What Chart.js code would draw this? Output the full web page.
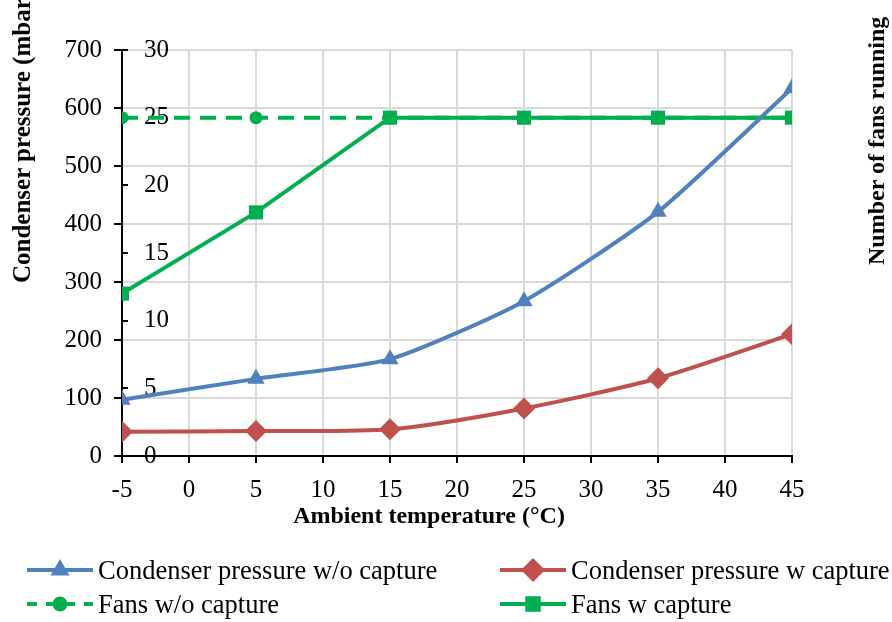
<!DOCTYPE html>
<html>
<head>
<meta charset="utf-8">
<script src="https://cdn.jsdelivr.net/npm/chart.js@4.4.0/dist/chart.umd.min.js"></script>
<style>
  body { margin: 0; background: #fff; }
  #wrap { position: relative; width: 892px; height: 622px; font-family: "Liberation Serif", "Times New Roman", serif; color: #000; }
  .ttl { position: absolute; white-space: nowrap; font-weight: bold; font-size: 24px; line-height: 24px; }
  .vt { transform-origin: 0 50%; transform: rotate(-90deg); }
  .lg { position: absolute; height: 30px; display: flex; align-items: center; font-size: 26.5px; white-space: nowrap; }
  .lg span { margin-left: 5px; }
</style>
</head>
<body>
<div id="wrap">
  <canvas id="myChart" width="892" height="622"></canvas>
  <div class="ttl vt" style="left:22px; top:271px; font-size:25px;">Condenser pressure (mbar)</div>
  <div class="ttl vt" style="left:876px; top:253px;">Number of fans running</div>
  <div class="ttl" style="left:429px; top:515px; transform: translate(-50%, -50%);">Ambient temperature (°C)</div>
  <div id="legend"></div>
</div>
<script>
// values
var temps = [-5, 5, 15, 25, 35, 45];
var pressNoCapture = [97, 133, 167, 267, 421, 634];
var pressCapture = [42, 43, 46, 82, 134, 210];
var fansNoCapture = [25, 25, 25, 25, 25, 25];
var fansCapture = [12, 18, 25, 25, 25, 25];

var pressTicks = [0, 700, 100];
var fansTicks = [0, 30, 5];
var tempTicks = [-5, 45, 5];

var BLUE = '#4f81bd', RED = '#c0504d', GREEN = '#00b050';
var tickFont = { family: 'Liberation Serif', size: 25 };

function pts(xs, ys) {
  return xs.map(function (x, i) { return { x: x, y: ys[i] }; });
}

var ctx = document.getElementById('myChart');

var myChart = new Chart(ctx, {
  type: 'line',
  data: {
    datasets: [{
      label: 'Condenser pressure w/o capture',
      data: pts(temps, pressNoCapture),
      yAxisID: 'y',
      borderColor: BLUE, backgroundColor: BLUE,
      borderWidth: 4, tension: 0.2,
      pointStyle: 'triangle', pointRadius: 10, pointBorderWidth: 0,
      order: 1
    }, {
      label: 'Condenser pressure w capture',
      data: pts(temps, pressCapture),
      yAxisID: 'y',
      borderColor: RED, backgroundColor: RED,
      borderWidth: 4, tension: 0.25,
      pointStyle: 'rectRot', pointRadius: 11, pointBorderWidth: 0,
      order: 2
    }, {
      label: 'Fans w/o capture',
      data: pts(temps, fansNoCapture),
      yAxisID: 'y2',
      borderColor: GREEN, backgroundColor: GREEN,
      borderWidth: 4, borderDash: [16, 10], tension: 0,
      pointStyle: 'circle', pointRadius: 6.5, pointBorderWidth: 0,
      order: 4
    }, {
      label: 'Fans w capture',
      data: pts(temps, fansCapture),
      yAxisID: 'y2',
      borderColor: GREEN, backgroundColor: GREEN,
      borderWidth: 4, tension: 0,
      pointStyle: 'rect', pointRadius: 10, pointBorderWidth: 0,
      order: 3
    }]
  },
  options: {
    responsive: false,
    animation: false,
    layout: { padding: { top: 50, right: 100, bottom: 116, left: 60 } },
    plugins: { legend: { display: false }, tooltip: { enabled: false } },
    scales: {
      x: {
        type: 'linear', min: tempTicks[0], max: tempTicks[1],
        ticks: { stepSize: tempTicks[2], font: tickFont, color: '#000', padding: 12 },
        grid: { color: '#d9d9d9', lineWidth: 2, tickLength: 7, tickColor: '#000' },
        border: { color: '#000', width: 2 },
        afterFit: function (s) { s.height = 50; }
      },
      y: {
        position: 'left', min: pressTicks[0], max: pressTicks[1], weight: 10,
        ticks: { stepSize: pressTicks[2], font: tickFont, color: '#000', padding: 12 },
        grid: { color: '#d9d9d9', lineWidth: 2, tickLength: 8, tickColor: '#000' },
        border: { color: '#000', width: 2 },
        afterFit: function (s) { s.width = 62; }
      },
      y2: {
        position: 'left', min: fansTicks[0], max: fansTicks[1], weight: 0, z: 1,
        ticks: { stepSize: fansTicks[2], font: tickFont, color: '#000', mirror: true, padding: 22 },
        grid: { drawOnChartArea: false, lineWidth: 2, tickLength: -6, tickColor: '#000' },
        border: { display: false },
        afterFit: function (s) { s.width = 0; }
      }
    }
  }
});

// legend laid out in two columns like the original
var legendSpots = [[27, 570], [500, 570], [27, 604], [500, 604]];
var legend = document.getElementById('legend');
myChart.data.datasets.forEach(function (ds, i) {
  var item = document.createElement('div');
  item.className = 'lg';
  item.style.left = legendSpots[i][0] + 'px';
  item.style.top = (legendSpots[i][1] - 15) + 'px';
  var c = document.createElement('canvas');
  c.width = 66; c.height = 30;
  var g = c.getContext('2d');
  g.strokeStyle = ds.borderColor;
  g.fillStyle = ds.backgroundColor;
  g.lineWidth = 4;
  if (ds.borderDash) g.setLineDash([10, 9]);
  g.beginPath(); g.moveTo(0, 15); g.lineTo(66, 15); g.stroke();
  g.setLineDash([]);
  Chart.helpers.drawPoint(g, { pointStyle: ds.pointStyle, radius: ds.pointRadius + 1, rotation: 0, borderWidth: 0 }, 33, 15);
  var t = document.createElement('span');
  t.textContent = ds.label;
  item.appendChild(c);
  item.appendChild(t);
  legend.appendChild(item);
});
</script>
</body>
</html>
